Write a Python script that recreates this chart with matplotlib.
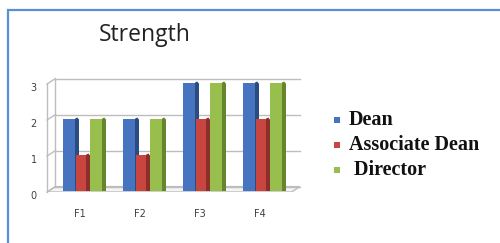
import matplotlib
matplotlib.use("Agg")
import matplotlib.pyplot as plt
from matplotlib.patches import Polygon, Rectangle

categories = ["F1", "F2", "F3", "F4"]
series = ["Dean", "Associate Dean", "Director"]
dean = [2, 2, 3, 3]
assoc_dean = [1, 1, 2, 2]
director = [2, 2, 3, 3]
values = [dean, assoc_dean, director]
y_ticks = [0, 1, 2, 3]

front_cols = ["#4674C1", "#C8463F", "#98BE4E"]
side_cols = ["#2B4C80", "#8E2E2A", "#66862E"]
legend_labels = ["Dean", "Associate Dean", " Director"]

W, H = 500, 243
fig = plt.figure(figsize=(W / 100, H / 100), dpi=100)
fig.patch.set_facecolor("white")

# outer blue frame (only left/top edges visible)
frame = Rectangle((8 / W, -0.1), 1.2, 1 - 10 / H + 0.1, transform=fig.transFigure,
                  fill=False, edgecolor="#5A8ED6", linewidth=1.6)
fig.patches.append(frame)

# axes: data y=0 at 192px from top, 36 px per unit
ax = fig.add_axes([47 / W, (H - 192) / H, 253 / W, 36 * 3.4 / H])
xmin, xmax = -0.62, 3.6
ax.set_xlim(xmin, xmax)
ax.set_ylim(0, 3.4)
ax.axis("off")

dx, dy = 0.14, 0.15  # depth offset
grid_c = "#BDBDBD"

# y axis front line
ax.plot([xmin, xmin], [0, 3], color=grid_c, lw=1, clip_on=False)
for t in y_ticks:
    ax.plot([xmin, xmin + dx], [t, t + dy], color=grid_c, lw=1, clip_on=False)
    ax.plot([xmin + dx, xmax], [t + dy, t + dy], color=grid_c, lw=1, clip_on=False)
    ax.text(xmin - 0.22, t - 0.1, str(t), ha="center", va="center",
            fontsize=7, color="#404040")
# back wall left edge
ax.plot([xmin + dx, xmin + dx], [dy, 3 + dy], color=grid_c, lw=1, clip_on=False)
# floor
ax.add_patch(Polygon([(xmin, 0), (xmax - dx, 0), (xmax, dy), (xmin + dx, dy)],
                     closed=True, facecolor="#F4F4F4", edgecolor=grid_c, lw=1))

# bars
offsets = [-0.25, -0.05, 0.2]
widths = [0.2, 0.17, 0.2]
sw = 0.07
base = 0.04
for s in range(3):
    bw = widths[s]
    for i, v in enumerate(values[s]):
        x0 = i + offsets[s] - bw / 2
        top = v + base
        ax.add_patch(Rectangle((x0 + bw - 0.01, base), sw + 0.01, top - base - 0.04,
                               facecolor=side_cols[s], edgecolor="none", zorder=3 + s))
        ax.add_patch(Polygon([(x0 + bw - 0.01, top - 0.04), (x0 + bw + sw, top - 0.04),
                              (x0 + bw + sw * 0.5, top + 0.03), (x0 + bw, top)],
                             closed=True, facecolor=side_cols[s], edgecolor="none", zorder=3 + s))
        ax.add_patch(Rectangle((x0, base), bw, top - base,
                               facecolor=front_cols[s], edgecolor="none", zorder=3 + s))

for i, c in enumerate(categories):
    ax.text(i - 0.07, -0.6, c, ha="center", va="center", fontsize=7, color="#404040")

fig.text(145 / W, 1 - 35 / H, "Strength", ha="center", va="center",
         fontsize=16.5, family="Open Sans", color="#222222")

# legend
leg_y = [120, 145, 170]
for k in range(3):
    fig.patches.append(Rectangle((334 / W, 1 - (leg_y[k] + 3) / H), 6 / W, 6 / H,
                                 transform=fig.transFigure, facecolor=front_cols[k],
                                 edgecolor="none"))
    fig.text(349 / W, 1 - leg_y[k] / H, legend_labels[k], ha="left", va="center",
             fontsize=14.5, family="Liberation Serif", weight="bold", color="#111111")

fig.savefig("out.png", dpi=100)
